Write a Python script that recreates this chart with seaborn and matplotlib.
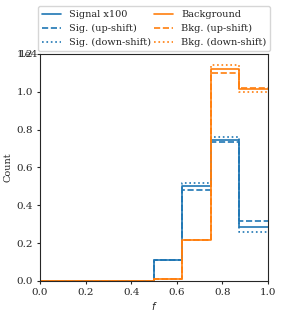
import numpy as np
import pandas as pd
import matplotlib
matplotlib.use("Agg")
import matplotlib.pyplot as plt
import seaborn as sn

# bin edges of the discriminant f
edges = np.linspace(0, 1, 9)
centers = (edges[:-1] + edges[1:]) / 2

# signal (already scaled x100) and background counts per bin
sig_nom = [0, 0, 0, 0, 1100, 5010, 7460, 2860]
sig_up = [0, 0, 0, 0, 1090, 4830, 7340, 3160]
sig_down = [0, 0, 0, 0, 1120, 5170, 7600, 2580]
bkg_nom = [0, 0, 0, 0, 90, 2170, 11200, 10120]
bkg_up = [0, 0, 0, 0, 90, 2170, 11000, 10200]
bkg_down = [0, 0, 0, 0, 90, 2170, 11430, 9960]

labels = ["Signal x100", "Sig. (up-shift)", "Sig. (down-shift)",
          "Background", "Bkg. (up-shift)", "Bkg. (down-shift)"]

sn.set_style("ticks")
plt.rcParams["font.family"] = ["DejaVu Serif"]
plt.rcParams["font.size"] = 7
plt.rcParams["xtick.labelsize"] = 7.5
plt.rcParams["ytick.labelsize"] = 7.5
plt.rcParams["xtick.major.size"] = 2
plt.rcParams["ytick.major.size"] = 2
plt.rcParams["xtick.major.pad"] = 3
plt.rcParams["ytick.major.pad"] = 3

fig = plt.figure(figsize=(2.82, 3.15), dpi=100)
ax = fig.add_axes([0.142, 0.108, 0.808, 0.721])

series = [(sig_nom, "#1f77b4", "-"), (sig_up, "#1f77b4", "--"), (sig_down, "#1f77b4", ":"),
          (bkg_nom, "#ff7f0e", "-"), (bkg_up, "#ff7f0e", "--"), (bkg_down, "#ff7f0e", ":")]

handles = []
for (vals, col, ls), lab in zip(series, labels):
    df = pd.DataFrame({"f": centers, "w": vals})
    sn.histplot(data=df, x="f", weights="w", binwidth=0.125, binrange=(0, 1),
                element="step", fill=False, color=col, linestyle=ls,
                linewidth=1.2, ax=ax)
    handles.append(plt.Line2D([], [], color=col, linestyle=ls, linewidth=1.2, label=lab))

ax.set_xlim(0, 1)
ax.set_ylim(0, 12000)
ax.set_xlabel("$f$", labelpad=2)
ax.set_ylabel("Count", labelpad=3)
ax.ticklabel_format(axis="y", style="sci", scilimits=(0, 0))
ax.legend(handles=handles, ncol=2, loc="lower center", bbox_to_anchor=(0.5, 1.0),
          fontsize=7, columnspacing=0.3, handletextpad=0.8, borderpad=0.4,
          labelspacing=0.5, handlelength=2.0, borderaxespad=0.3)
off = ax.yaxis.get_offset_text()
off.set_ha("right")
off.set_va("top")
off.set_x(-0.01)

fig.savefig("out.png", dpi=100)
